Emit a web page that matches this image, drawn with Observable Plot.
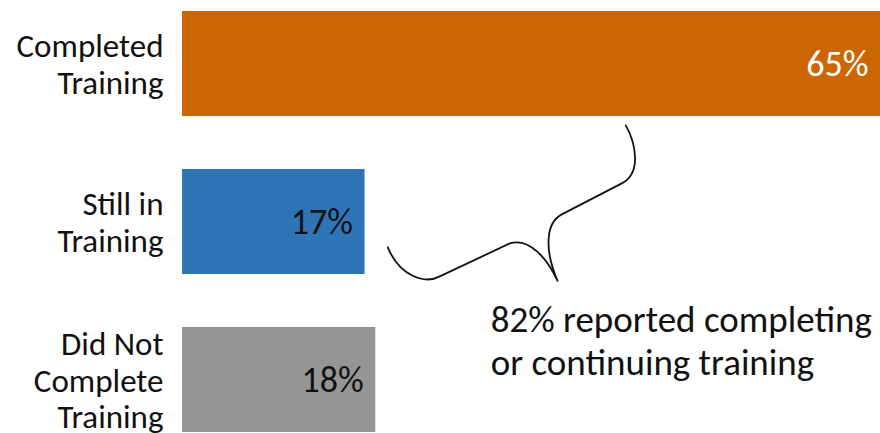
<!DOCTYPE html>
<html>
<head>
<meta charset="utf-8">
<script src="https://cdn.jsdelivr.net/npm/d3@7"></script>
<script src="https://cdn.jsdelivr.net/npm/@observablehq/plot@0.6"></script>
<style>
  html, body { margin: 0; padding: 0; background: #fff; overflow: hidden; }
  #chart svg { display: block; }
</style>
</head>
<body>
<div id="chart"></div>
<script>
const categories = ["Completed Training", "Still in Training", "Did Not Complete Training"];
const tickLabels = ["Completed\nTraining", "Still in\nTraining", "Did Not\nComplete\nTraining"];
const values = [65, 17, 18];
const colors = ["#CC6600", "#2E75B6", "#959595"];
const labelColors = ["#FFFFFF", "#111111", "#111111"];
const noteText = "82% reported completing\nor continuing training";

const data = categories.map((c, i) => ({category: c, value: values[i], labelColor: labelColors[i]}));
const labelOf = new Map(categories.map((c, i) => [c, tickLabels[i]]));

const FONT = "Carlito, Lato, 'Open Sans', sans-serif";

const plot = Plot.plot({
  width: 880,
  height: 433,
  marginLeft: 182,
  marginRight: 0,
  marginTop: 10,
  marginBottom: 0,
  style: {fontFamily: FONT, background: "#fff", overflow: "hidden"},
  x: {domain: [0, 65], axis: null},
  y: {domain: categories, paddingInner: 1/3, paddingOuter: 0, axis: null},
  color: {domain: categories, range: colors},
  marks: [
    Plot.barX(data, {x: "value", y: "category", fill: "category"}),
    Plot.text(data, {
      x: "value", y: "category", text: d => d.value + "%",
      textAnchor: "end", dx: -12, fill: "labelColor", fontSize: 36
    }),
    Plot.axisY({
      label: null, tickSize: 0, tickPadding: 19, fontSize: 33, lineHeight: 1.1,
      tickFormat: d => labelOf.get(d), fill: "#111"
    }),
    Plot.text([noteText], {
      x: 28.7, y: [categories[2]], text: d => d,
      textAnchor: "start", dy: -40, fontSize: 37, lineHeight: 1.14, fill: "#111"
    })
  ]
});

document.getElementById("chart").appendChild(plot);

// Curly brace annotation anchored through the plot's scales
const xs = plot.scale("x"), ys = plot.scale("y");
const bw = ys.bandwidth;
const tipX = xs.apply(35.0);
const tipY = ys.apply(categories[1]) + 1.07 * bw;
const rel = (dx, dy) => `${(tipX + dx).toFixed(1)},${(tipY + dy).toFixed(1)}`;
const path = [
  `M${rel(68, -156)}`,
  `C${rel(78, -138)} ${rel(84, -108)} ${rel(64, -98)}`,
  `L${rel(4, -67)}`,
  `C${rel(-13, -58)} ${rel(-13, -30)} ${rel(0, 0)}`,
  `C${rel(-10, -22)} ${rel(-28, -44)} ${rel(-48, -38)}`,
  `L${rel(-118, -5)}`,
  `C${rel(-133, 3)} ${rel(-158, -5)} ${rel(-170, -34)}`
].join(" ");
d3.select(plot).append("path")
  .attr("d", path)
  .attr("fill", "none")
  .attr("stroke", "#111")
  .attr("stroke-width", 1.8)
  .attr("stroke-linecap", "round");
</script>
</body>
</html>
